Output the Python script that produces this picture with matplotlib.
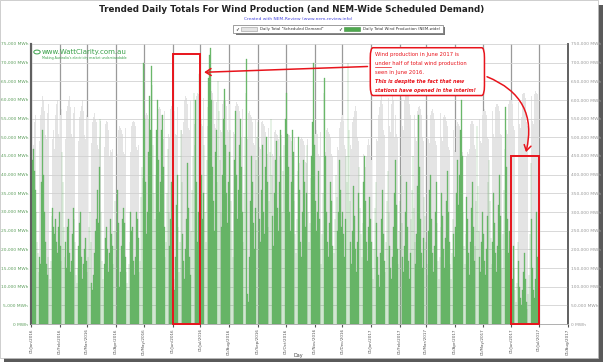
import matplotlib
matplotlib.use("Agg")
import matplotlib.pyplot as plt
import matplotlib.dates as mdates
import matplotlib.ticker as mticker
import numpy as np
from matplotlib.patches import Rectangle, FancyBboxPatch, FancyArrowPatch

# Daily total wind production (NEM-wide), thousand MWh
wind_2016_01 = [27, 44, 47, 41, 36, 30, 22, 19, 14, 18, 16, 38, 52, 40, 30, 22, 16, 13, 18, 15, 12, 17, 29, 31, 26, 24, 28, 22, 19, 26, 30]
wind_2016_02 = [21, 17, 46, 38, 26, 18, 22, 15, 26, 28, 19, 14, 17, 24, 31, 28, 22, 13, 11, 15, 21, 27, 30, 18, 12, 16, 20, 23, 17]
wind_2016_03 = [14, 18, 26, 30, 22, 11, 9, 13, 19, 25, 28, 36, 27, 42, 55, 30, 17, 12, 9, 16, 23, 26, 20, 14, 19, 28, 24, 21, 16, 25, 33]
wind_2016_04 = [25, 18, 36, 27, 10, 14, 21, 28, 31, 27, 18, 14, 11, 9, 16, 22, 30, 25, 26, 17, 13, 18, 30, 28, 23, 14, 17, 34, 42, 39]
wind_2016_05 = [70, 55, 38, 24, 30, 46, 61, 52, 69, 64, 48, 35, 28, 40, 52, 60, 44, 30, 38, 52, 56, 42, 26, 18, 22, 35, 47, 30, 21, 28, 38]
wind_2016_06 = [10, 12, 9, 18, 32, 40, 26, 14, 22, 52, 38, 24, 17, 12, 20, 28, 43, 31, 18, 13, 25, 36, 45, 62, 48, 60, 38, 22, 30, 67]
wind_2016_07 = [55, 40, 28, 35, 48, 30, 22, 44, 58, 66, 72, 74, 60, 42, 33, 25, 46, 52, 38, 65, 57, 44, 30, 26, 40, 55, 63, 48, 35, 27, 38]
wind_2016_08 = [46, 52, 33, 25, 18, 30, 44, 57, 40, 28, 36, 48, 55, 42, 30, 22, 35, 50, 62, 71, 8, 6, 18, 33, 45, 38, 27, 20, 31, 44, 50]
wind_2016_09 = [54, 40, 28, 22, 36, 48, 30, 24, 42, 50, 38, 26, 33, 46, 55, 40, 29, 21, 35, 44, 49, 31, 25, 38, 52, 45, 30, 41, 48, 36]
wind_2016_10 = [55, 62, 51, 42, 30, 25, 38, 52, 46, 33, 24, 19, 28, 41, 50, 36, 22, 18, 30, 44, 38, 26, 35, 48, 30, 22, 27, 39, 45, 54, 70]
wind_2016_11 = [48, 33, 25, 30, 41, 28, 20, 16, 24, 35, 62, 66, 45, 30, 22, 18, 27, 38, 33, 21, 15, 19, 28, 40, 34, 25, 30, 44, 36, 26]
wind_2016_12 = [30, 24, 18, 28, 45, 38, 70, 52, 33, 22, 16, 25, 37, 29, 20, 14, 22, 35, 42, 31, 24, 18, 27, 38, 45, 33, 22, 17, 26, 34, 28]
wind_2017_01 = [22, 15, 12, 20, 31, 38, 27, 18, 13, 10, 19, 28, 36, 24, 17, 14, 22, 33, 41, 30, 21, 15, 12, 18, 26, 35, 44, 32, 20, 16, 25]
wind_2017_02 = [33, 40, 27, 18, 14, 21, 30, 38, 26, 17, 12, 19, 28, 36, 45, 31, 22, 16, 24, 37, 56, 42, 28, 19, 15, 23, 34, 29]
wind_2017_03 = [22, 16, 13, 25, 36, 40, 28, 19, 14, 21, 30, 38, 27, 17, 12, 18, 26, 35, 29, 20, 15, 23, 33, 41, 30, 22, 16, 12, 19, 28, 24]
wind_2017_04 = [18, 26, 35, 44, 32, 40, 52, 60, 45, 30, 21, 16, 24, 34, 28, 19, 13, 22, 31, 38, 26, 17, 21, 33, 53, 37, 25, 18, 14, 22]
wind_2017_05 = [30, 24, 17, 13, 20, 29, 38, 44, 33, 23, 16, 22, 35, 27, 19, 14, 21, 32, 40, 29, 20, 15, 24, 36, 47, 58, 42, 28, 19, 25, 20]
wind_2017_06 = [8, 12, 21, 15, 9, 6, 11, 22, 17, 10, 7, 5, 9, 14, 19, 12, 6, 4, 8, 13, 24, 43, 28, 15, 9, 7, 12, 30, 18, 10]

# Daily total "Scheduled Demand", thousand MWh
dem_2016_01 = [500, 470, 480, 540, 560, 575, 590, 585, 500, 490, 560, 580, 610, 600, 570, 505, 495, 565, 590, 600, 585, 560, 500, 495, 520, 470, 560, 590, 600, 510, 500]
dem_2016_02 = [560, 575, 600, 590, 565, 505, 495, 570, 585, 600, 610, 580, 510, 500, 565, 580, 595, 575, 560, 500, 490, 555, 570, 585, 600, 570, 505, 495, 560]
dem_2016_03 = [555, 560, 575, 560, 495, 485, 540, 555, 565, 550, 540, 480, 470, 500, 545, 560, 575, 560, 490, 475, 535, 545, 540, 520, 450, 465, 460, 470, 530, 540, 535]
dem_2016_04 = [525, 465, 455, 520, 530, 525, 520, 510, 460, 455, 525, 535, 540, 535, 520, 470, 460, 530, 540, 545, 540, 530, 475, 465, 480, 545, 550, 555, 545, 485]
dem_2016_05 = [480, 550, 560, 565, 560, 550, 490, 485, 560, 570, 575, 570, 555, 495, 490, 565, 575, 580, 575, 560, 500, 495, 570, 580, 585, 590, 575, 510, 500, 575, 585]
dem_2016_06 = [590, 585, 570, 510, 505, 580, 595, 600, 595, 580, 520, 510, 540, 600, 610, 605, 590, 525, 520, 600, 615, 620, 615, 600, 535, 530, 610, 620, 615, 605]
dem_2016_07 = [595, 535, 530, 605, 615, 620, 610, 595, 530, 525, 600, 615, 625, 620, 600, 535, 525, 595, 605, 600, 595, 580, 520, 515, 590, 600, 605, 600, 585, 520, 515]
dem_2016_08 = [590, 600, 595, 590, 575, 515, 510, 585, 595, 590, 585, 570, 510, 500, 575, 585, 580, 570, 560, 500, 495, 565, 570, 560, 555, 540, 485, 480, 550, 560, 555]
dem_2016_09 = [545, 530, 475, 470, 540, 545, 535, 530, 515, 465, 455, 525, 530, 525, 515, 505, 455, 450, 515, 520, 510, 505, 495, 450, 440, 505, 510, 505, 495, 485]
dem_2016_10 = [440, 435, 480, 505, 505, 500, 490, 440, 435, 500, 505, 500, 495, 485, 440, 430, 495, 500, 495, 490, 480, 435, 430, 495, 505, 500, 495, 485, 440, 435, 500]
dem_2016_11 = [505, 510, 520, 510, 455, 450, 515, 525, 530, 535, 520, 465, 460, 520, 525, 515, 510, 500, 455, 450, 515, 530, 545, 550, 540, 475, 465, 525, 540, 555]
dem_2016_12 = [560, 545, 480, 470, 540, 550, 555, 560, 545, 480, 470, 540, 555, 570, 585, 570, 500, 490, 560, 575, 560, 545, 520, 455, 430, 420, 450, 480, 495, 480, 450]
dem_2017_01 = [440, 460, 520, 540, 555, 550, 495, 490, 560, 580, 600, 610, 590, 520, 505, 575, 600, 620, 630, 605, 530, 515, 590, 610, 600, 500, 560, 510, 500, 585, 605]
dem_2017_02 = [615, 625, 605, 530, 520, 600, 615, 625, 640, 645, 590, 560, 600, 590, 580, 575, 560, 500, 490, 570, 580, 585, 575, 560, 500, 490, 565, 575]
dem_2017_03 = [580, 575, 560, 495, 485, 560, 570, 575, 565, 550, 490, 480, 510, 565, 575, 580, 565, 500, 490, 555, 560, 555, 545, 530, 475, 465, 535, 545, 540, 535, 520]
dem_2017_04 = [465, 460, 530, 540, 535, 530, 520, 465, 460, 530, 540, 540, 525, 450, 460, 455, 470, 535, 545, 545, 535, 480, 470, 545, 490, 555, 560, 550, 490, 485]
dem_2017_05 = [560, 570, 575, 570, 560, 500, 495, 570, 580, 585, 580, 570, 510, 500, 580, 590, 590, 585, 570, 510, 505, 580, 590, 595, 590, 580, 520, 510, 590, 600, 600]
dem_2017_06 = [600, 590, 530, 520, 600, 610, 615, 610, 595, 535, 525, 555, 615, 620, 620, 605, 540, 530, 610, 625, 630, 625, 610, 545, 535, 615, 625, 620, 615, 600]

wind = np.concatenate([wind_2016_01, wind_2016_02, wind_2016_03, wind_2016_04, wind_2016_05, wind_2016_06,
                       wind_2016_07, wind_2016_08, wind_2016_09, wind_2016_10, wind_2016_11, wind_2016_12,
                       wind_2017_01, wind_2017_02, wind_2017_03, wind_2017_04, wind_2017_05, wind_2017_06]) * 1000
demand = np.concatenate([dem_2016_01, dem_2016_02, dem_2016_03, dem_2016_04, dem_2016_05, dem_2016_06,
                         dem_2016_07, dem_2016_08, dem_2016_09, dem_2016_10, dem_2016_11, dem_2016_12,
                         dem_2017_01, dem_2017_02, dem_2017_03, dem_2017_04, dem_2017_05, dem_2017_06]) * 1000
days = np.arange(np.datetime64("2016-01-01"), np.datetime64("2016-01-01") + len(wind))
x = mdates.date2num(days.astype("datetime64[D]").astype(object))

W, H = 604, 364
fig = plt.figure(figsize=(W / 100, H / 100), dpi=100)
fig.patch.set_facecolor("white")

# frame with shadow
fig.patches.append(Rectangle((4 / W, 2 / H), 599 / W, 357 / H, transform=fig.transFigure,
                             facecolor="#5a5a5a", edgecolor="none", zorder=0))
fig.patches.append(Rectangle((0, 6 / H), 598 / W, 358 / H, transform=fig.transFigure,
                             facecolor="white", edgecolor="#bbbbbb", lw=0.5, zorder=0))

# demand axis (right labels), wind axis drawn on top (left labels)
ax_d = fig.add_axes([31 / W, 40 / H, 537 / W, 280 / H])
ax_w = ax_d.twinx()
ax_d.set_zorder(1)
ax_w.set_zorder(2)
ax_w.patch.set_visible(False)

ax_d.bar(x, demand, width=0.75, color="#e4e4e4", edgecolor="none")
ax_w.bar(x, wind, width=0.7, color="#74c074", edgecolor="#52a352", lw=0.2)

xmin = mdates.date2num(np.datetime64("2016-01-01").astype(object))
xmax = mdates.date2num(np.datetime64("2017-08-01").astype(object))
ax_d.set_xlim(xmin - 0.5, xmax)
ax_d.set_ylim(0, 750000)
ax_w.set_ylim(0, 75000)

ax_d.yaxis.tick_right()
ax_w.yaxis.tick_left()
ax_d.yaxis.set_major_locator(mticker.MultipleLocator(50000))
ax_w.yaxis.set_major_locator(mticker.MultipleLocator(5000))
fmt = mticker.FuncFormatter(lambda v, p: f"{int(v):,} MWh")
ax_d.yaxis.set_major_formatter(fmt)
ax_w.yaxis.set_major_formatter(fmt)
ax_d.tick_params(axis="y", labelsize=3.2, colors="#9a9a9a", length=0, pad=2, labelright=True, labelleft=False)
ax_w.tick_params(axis="y", labelsize=3.2, colors="#5f9f5f", length=0, pad=2, labelleft=True, labelright=False)

ax_d.xaxis.set_major_locator(mdates.MonthLocator())
ax_d.xaxis.set_major_formatter(mdates.DateFormatter("%d/%b/%Y"))
ax_d.tick_params(axis="x", labelsize=3.0, colors="#555555", rotation=90, length=2, pad=1)
fig.text(298 / W, 1 - 355 / H, "Day", fontsize=3.5, color="#444444", ha="center", va="center")

ax_d.grid(axis="x", color="#9a9a9a", lw=0.9)
ax_w.grid(axis="y", color="#d2d2d2", lw=0.6)
ax_d.set_axisbelow(True)
ax_w.set_axisbelow(True)

for a in (ax_d, ax_w):
    a.spines["top"].set_visible(False)
    a.spines["left"].set_color("#606060")
    a.spines["left"].set_linewidth(1.5)
    a.spines["right"].set_color("#606060")
    a.spines["right"].set_linewidth(1.2)
    a.spines["bottom"].set_color("#b0b0b0")
    a.spines["bottom"].set_linewidth(0.6)

# titles
fig.text(292 / W, 1 - 10 / H, "Trended Daily Totals For Wind Production (and NEM-Wide Scheduled Demand)",
         ha="center", va="center", fontsize=6.3, fontweight="bold", color="#222222")
fig.text(298 / W, 1 - 18.5 / H, "Created with NEM-Review (www.nem-review.info)",
         ha="center", va="center", fontsize=3.2, color="#4444dd")

# legend box
fig.patches.append(Rectangle((236 / W, 1 - 35 / H), 209 / W, 8 / H, transform=fig.transFigure,
                             facecolor="#777777", edgecolor="none", zorder=3))
fig.patches.append(Rectangle((233 / W, 1 - 33 / H), 210 / W, 8 / H, transform=fig.transFigure,
                             facecolor="white", edgecolor="#777777", lw=0.5, zorder=4))
fig.text(237 / W, 1 - 29 / H, "✓", fontsize=3.5, ha="center", va="center", zorder=5)
fig.patches.append(Rectangle((241 / W, 1 - 31 / H), 16 / W, 4 / H, transform=fig.transFigure,
                             facecolor="#e4e4e4", edgecolor="#999999", lw=0.4, zorder=5))
fig.text(260 / W, 1 - 29 / H, 'Daily Total "Scheduled Demand"', fontsize=2.8, ha="left", va="center",
         color="#333333", zorder=5)
fig.text(340 / W, 1 - 29 / H, "✓", fontsize=3.5, ha="center", va="center", zorder=5)
fig.patches.append(Rectangle((344 / W, 1 - 31 / H), 16 / W, 4 / H, transform=fig.transFigure,
                             facecolor="#4fa84f", edgecolor="#3e8e3e", lw=0.4, zorder=5))
fig.text(363 / W, 1 - 29 / H, "Daily Total Wind Production (NEM-wide)", fontsize=2.8, ha="left", va="center",
         color="#333333", zorder=5)

# WattClarity logo
logo_green = "#3aa14a"
fig.text(42 / W, 1 - 52 / H, "www.WattClarity.com.au", fontsize=5.0, color=logo_green, ha="left",
         va="center", zorder=6)
fig.text(42 / W, 1 - 58 / H, "Making Australia's electricity market understandable", fontsize=2.3,
         color=logo_green, ha="left", va="center", zorder=6)
fig.patches.append(plt.Circle((37 / W, 1 - 52 / H), 3.2 / W, transform=fig.transFigure,
                              facecolor="white", edgecolor=logo_green, lw=0.7, zorder=6))

# red annotations (wind axis coordinates)
red = "#e8141c"
d = lambda s: mdates.date2num(np.datetime64(s).astype(object))
ax_w.add_patch(Rectangle((d("2016-06-01"), 0), d("2016-07-01") - d("2016-06-01"), 72300,
                         fill=False, edgecolor=red, lw=1.4, zorder=10, clip_on=False))
ax_w.add_patch(Rectangle((d("2017-06-01"), 0), d("2017-07-01") - d("2017-06-01"), 45000,
                         fill=False, edgecolor=red, lw=1.4, zorder=10, clip_on=False))

box_x0, box_x1 = d("2016-12-31"), d("2017-05-03")
box = FancyBboxPatch((box_x0, 61200), box_x1 - box_x0, 12800,
                     boxstyle="round,pad=0,rounding_size=3", mutation_aspect=900,
                     facecolor="white", edgecolor=red, lw=1.1, zorder=11)
ax_w.add_patch(box)
lines = ["Wind production in June 2017 is",
         "under half of total wind production",
         "seen in June 2016."]
for i, t in enumerate(lines):
    ax_w.text(d("2017-01-05"), 72300 - i * 2450, t, fontsize=3.8, color=red, ha="left", va="center", zorder=12)
ul_y = 72300 - 2450 - 1000
ax_w.plot([d("2017-01-05"), d("2017-01-22")], [ul_y, ul_y], color=red, lw=0.5, zorder=12)
for i, t in enumerate(["This is despite the fact that new", "stations have opened in the interim!"]):
    ax_w.text(d("2017-01-05"), 72300 - (i + 3) * 2450, t, fontsize=3.55, color=red, ha="left", va="center",
              style="italic", fontweight="bold", zorder=12)

ax_w.add_patch(FancyArrowPatch((box_x0, 69000), (d("2016-07-02"), 67400), arrowstyle="->,head_length=4,head_width=2.5",
                               color=red, lw=1.1, zorder=12, clip_on=False))
ax_w.add_patch(FancyArrowPatch((box_x1, 66500), (d("2017-06-16"), 45300), connectionstyle="arc3,rad=-0.45",
                               arrowstyle="->,head_length=4,head_width=2.5", color=red, lw=1.1, zorder=12,
                               clip_on=False))

fig.savefig("out.png", dpi=100)
